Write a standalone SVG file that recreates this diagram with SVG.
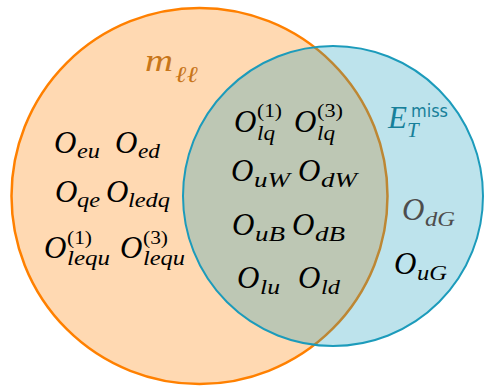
<svg xmlns="http://www.w3.org/2000/svg" width="484" height="386" viewBox="0 0 484 386">
  <style>
    .op text { font-family: "Liberation Serif", "DejaVu Serif", serif; font-style: italic; font-size: 31px; fill: #000; }
    .op text.sub { font-size: 21px; }
    .op text.sup { font-size: 19px; font-style: normal; }
    .gray text { fill: #4d4d4d; }
    .lab-m text { fill: #c8761a; }
    .lab-e text { fill: #17809a; }
    .op text.sans { font-family: "DejaVu Sans", "Liberation Sans", sans-serif; font-style: normal; font-size: 17px; }
  </style>

  <!-- m_ll set -->
  <g id="set-mll">
    <circle cx="199.5" cy="196" r="188" fill="#ffd9b2" stroke="#ff8000" stroke-width="2.5"/>
  </g>

  <!-- missing-ET set, translucent over the first -->
  <g id="set-etmiss">
    <circle cx="333" cy="196" r="150" fill="#139bbb" fill-opacity="0.28" stroke="#1c9bbb" stroke-width="2"/>
  </g>

  <!-- set labels -->
  <g id="label-mll" class="op lab-m">
    <text x="145" y="71" textLength="28" lengthAdjust="spacingAndGlyphs" style="font-size:32px">m</text>
    <text class="sub" x="175" y="82" textLength="23" lengthAdjust="spacingAndGlyphs" style="font-size:23px">ℓℓ</text>
  </g>
  <g id="label-etmiss" class="op lab-e">
    <text x="388" y="128">E</text>
    <text class="sans" x="411" y="117" textLength="37" lengthAdjust="spacingAndGlyphs">miss</text>
    <text class="sub" x="407" y="137">T</text>
  </g>

  <!-- operators only in m_ll -->
  <g id="op-eu" class="op"><text x="54" y="153">O</text><text class="sub" x="77" y="158" textLength="23" lengthAdjust="spacingAndGlyphs">eu</text></g>
  <g id="op-ed" class="op"><text x="115" y="153">O</text><text class="sub" x="138" y="158" textLength="22" lengthAdjust="spacingAndGlyphs">ed</text></g>
  <g id="op-qe" class="op"><text x="55" y="202">O</text><text class="sub" x="77" y="207" textLength="23" lengthAdjust="spacingAndGlyphs">qe</text></g>
  <g id="op-ledq" class="op"><text x="106" y="202">O</text><text class="sub" x="128" y="207" textLength="42" lengthAdjust="spacingAndGlyphs">ledq</text></g>
  <g id="op-lequ1" class="op"><text x="44" y="258">O</text><text class="sup" x="67" y="244" textLength="25" lengthAdjust="spacingAndGlyphs">(1)</text><text class="sub" x="67" y="265" textLength="43" lengthAdjust="spacingAndGlyphs">lequ</text></g>
  <g id="op-lequ3" class="op"><text x="120" y="258">O</text><text class="sup" x="143" y="244" textLength="25" lengthAdjust="spacingAndGlyphs">(3)</text><text class="sub" x="143" y="265" textLength="42" lengthAdjust="spacingAndGlyphs">lequ</text></g>

  <!-- operators in both sets -->
  <g id="op-lq1" class="op"><text x="234" y="132">O</text><text class="sup" x="257" y="117" textLength="25" lengthAdjust="spacingAndGlyphs">(1)</text><text class="sub" x="257" y="140" textLength="18" lengthAdjust="spacingAndGlyphs">lq</text></g>
  <g id="op-lq3" class="op"><text x="294" y="132">O</text><text class="sup" x="317" y="117" textLength="26" lengthAdjust="spacingAndGlyphs">(3)</text><text class="sub" x="317" y="140" textLength="18" lengthAdjust="spacingAndGlyphs">lq</text></g>
  <g id="op-uW" class="op"><text x="231" y="181">O</text><text class="sub" x="254" y="187" textLength="36" lengthAdjust="spacingAndGlyphs">uW</text></g>
  <g id="op-dW" class="op"><text x="298" y="181">O</text><text class="sub" x="321" y="187" textLength="36" lengthAdjust="spacingAndGlyphs">dW</text></g>
  <g id="op-uB" class="op"><text x="232" y="235">O</text><text class="sub" x="255" y="241" textLength="30" lengthAdjust="spacingAndGlyphs">uB</text></g>
  <g id="op-dB" class="op"><text x="292" y="235">O</text><text class="sub" x="315" y="241" textLength="30" lengthAdjust="spacingAndGlyphs">dB</text></g>
  <g id="op-lu" class="op"><text x="237" y="288">O</text><text class="sub" x="260" y="294" textLength="20" lengthAdjust="spacingAndGlyphs">lu</text></g>
  <g id="op-ld" class="op"><text x="298" y="288">O</text><text class="sub" x="321" y="294" textLength="19" lengthAdjust="spacingAndGlyphs">ld</text></g>

  <!-- operators only in missing ET -->
  <g id="op-dG" class="op gray"><text x="402" y="220">O</text><text class="sub" x="425" y="226" textLength="30" lengthAdjust="spacingAndGlyphs">dG</text></g>
  <g id="op-uG" class="op"><text x="394" y="274">O</text><text class="sub" x="417" y="280" textLength="30" lengthAdjust="spacingAndGlyphs">uG</text></g>
</svg>
